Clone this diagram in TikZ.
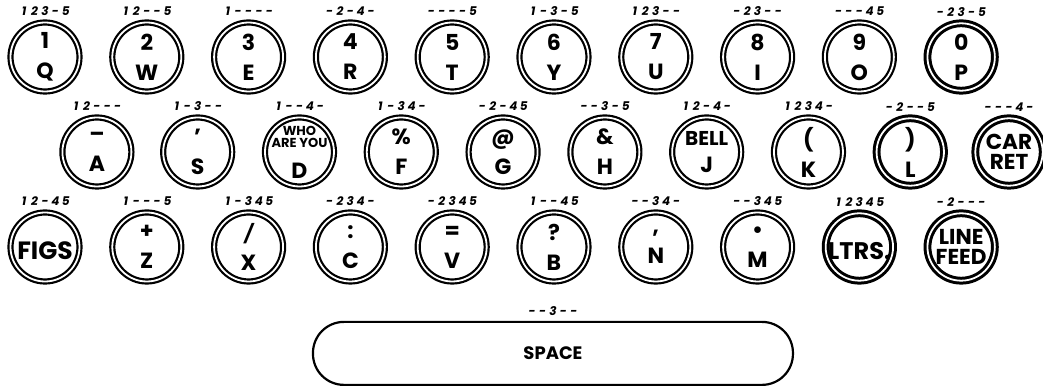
\documentclass[tikz,border=0pt]{standalone}
\usepackage{fontspec}
\setsansfont{Poppins}
\usetikzlibrary{positioning}
\newcommand\tcode[5]{\makebox[5.2pt]{#1}\makebox[5.2pt]{#2}\makebox[5.2pt]{#3}\makebox[5.2pt]{#4}\makebox[5.2pt]{#5}}
\tikzset{
  keycap/.style={circle,draw,line width=1.1pt,double=white,double distance=0.9pt,minimum size=34.5pt,
    inner sep=0pt,align=center,font=\sffamily\bfseries\fontsize{11}{15}\selectfont,
    execute at begin node={\rule{0pt}{12.5pt}}},
  keyheavy/.style={keycap,line width=1.5pt,minimum size=33.7pt},
  keyplain/.style={execute at begin node={},inner sep=-6pt},
  keyword/.style={keyplain,font=\sffamily\bfseries\fontsize{10.8}{10.2}\selectfont},
  codelbl/.style={font=\sffamily\bfseries\itshape\fontsize{6}{6}\selectfont,inner sep=0pt},
  spacebar/.style={draw,line width=1.1pt,rounded corners=15.5pt,minimum width=240pt,minimum height=31.5pt,
    inner sep=0pt,font=\sffamily\bfseries\fontsize{9}{10}\selectfont}
}
\begin{document}
\begin{tikzpicture}[x=50.9pt,y=-47.5pt]
  \useasboundingbox (-0.442,-0.6) rectangle (9.804,3.463);
  % top row
  \node[keycap] (q) at (0,0) {1\\Q};        \node[codelbl,above=2.5pt of q] (cq) {\tcode 123-5};
  \node[keycap] (w) at (1,0) {2\\W};        \node[codelbl,above=2.5pt of w] (cw) {\tcode 12--5};
  \node[keycap] (e) at (2,0) {3\\E};        \node[codelbl,above=2.5pt of e] (ce) {\tcode 1----};
  \node[keycap] (r) at (3,0) {4\\R};        \node[codelbl,above=2.5pt of r] (cr) {\tcode -2-4-};
  \node[keycap] (t) at (4,0) {5\\T};        \node[codelbl,above=2.5pt of t] (ct) {\tcode ----5};
  \node[keycap] (y) at (5,0) {6\\Y};        \node[codelbl,above=2.5pt of y] (cy) {\tcode 1-3-5};
  \node[keycap] (u) at (6,0) {7\\U};        \node[codelbl,above=2.5pt of u] (cu) {\tcode 123--};
  \node[keycap] (i) at (7,0) {8\\I};        \node[codelbl,above=2.5pt of i] (ci) {\tcode -23--};
  \node[keycap] (o) at (8,0) {9\\O};        \node[codelbl,above=2.5pt of o] (co) {\tcode ---45};
  \node[keyheavy] (p) at (9,0) {0\\P};      \node[codelbl,above=2.5pt of p] (cp) {\tcode -23-5};
  % middle row
  \node[keycap] (a) at (0.51,1) {--\\A};    \node[codelbl,above=2.5pt of a] (ca) {\tcode 12---};
  \node[keycap] (s) at (1.5,1) {'\\S};      \node[codelbl,above=2.5pt of s] (cs) {\tcode 1-3--};
  \node[keycap,keyplain] (d) at (2.5,1) {{\fontsize{6.5}{6.5}\selectfont WHO}\\[-9pt]{\fontsize{6.5}{6.5}\selectfont ARE YOU}\\[0.5pt]D};
  \node[codelbl,above=2.5pt of d] (cd) {\tcode 1--4-};
  \node[keycap] (f) at (3.5,1) {\%\\F};     \node[codelbl,above=2.5pt of f] (cf) {\tcode 1-34-};
  \node[keycap] (g) at (4.5,1) {@\\G};      \node[codelbl,above=2.5pt of g] (cg) {\tcode -2-45};
  \node[keycap] (h) at (5.5,1) {\&\\H};     \node[codelbl,above=2.5pt of h] (ch) {\tcode --3-5};
  \node[keycap,keyplain] (j) at (6.5,1) {{\fontsize{10}{10}\selectfont BELL}\\[-1.5pt]J};
  \node[codelbl,above=2.5pt of j] (cj) {\tcode 12-4-};
  \node[keycap] (k) at (7.5,1) {(\\K};      \node[codelbl,above=2.5pt of k] (ck) {\tcode 1234-};
  \node[keyheavy] (l) at (8.5,1) {)\\L};    \node[codelbl,above=2.5pt of l] (cl) {\tcode -2--5};
  \node[keyheavy,keyword] (cret) at (9.47,1) {CAR\\RET}; \node[codelbl,above=2.5pt of cret] (ccret) {\tcode ---4-};
  % bottom row
  \node[keycap,keyword,font=\sffamily\bfseries\fontsize{12.5}{12}\selectfont] (figs) at (0,2) {FIGS};
  \node[codelbl,above=2.5pt of figs] (cfigs) {\tcode 12-45};
  \node[keycap] (z) at (1,2) {+\\Z};        \node[codelbl,above=2.5pt of z] (cz) {\tcode 1---5};
  \node[keycap] (x) at (2,2) {{\fontsize{9}{9}\selectfont\itshape /}\\X}; \node[codelbl,above=2.5pt of x] (cx) {\tcode 1-345};
  \node[keycap] (c) at (3,2) {:\\C};        \node[codelbl,above=2.5pt of c] (cc) {\tcode -234-};
  \node[keycap] (v) at (4,2) {=\\V};        \node[codelbl,above=2.5pt of v] (cv) {\tcode -2345};
  \node[keycap] (b) at (5,2) {?\\B};        \node[codelbl,above=2.5pt of b] (cb) {\tcode 1--45};
  \node[keycap] (n) at (6,2) {,\\N};        \node[codelbl,above=2.5pt of n] (cn) {\tcode --34-};
  \node[keycap] (m) at (7,2) {\textbullet\\M}; \node[codelbl,above=2.5pt of m] (cm) {\tcode --345};
  \node[keyheavy,keyword,font=\sffamily\bfseries\fontsize{12}{12}\selectfont] (ltrs) at (8,2) {LTRS.};
  \node[codelbl,above=2.5pt of ltrs] (cltrs) {\tcode 12345};
  \node[keyheavy,keyword] (lf) at (9,2) {LINE\\FEED}; \node[codelbl,above=2.5pt of lf] (clf) {\tcode -2---};
  % space bar
  \node[spacebar] (sp) at (4.99,3.12) {SPACE};
  \node[codelbl,above=2.5pt of sp] (csp) {\tcode --3--};
\end{tikzpicture}
\end{document}
